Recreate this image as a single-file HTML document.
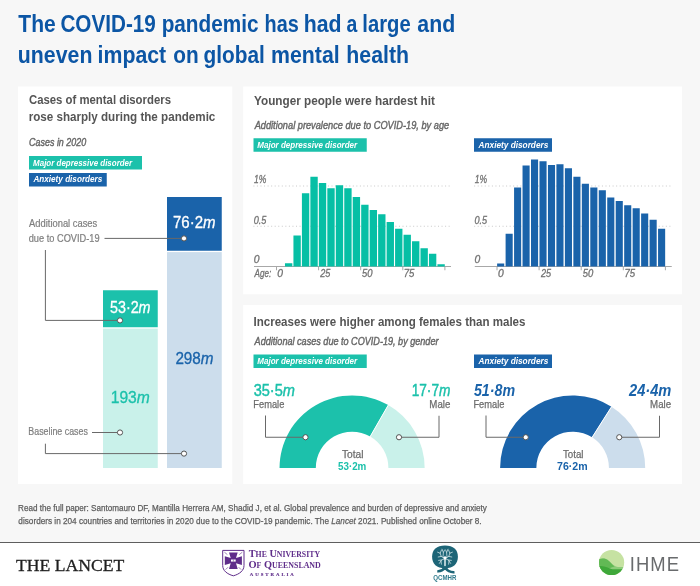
<!DOCTYPE html>
<html lang="en">
<head>
<meta charset="utf-8">
<title>The COVID-19 pandemic has had a large and uneven impact on global mental health</title>
<style>
*{margin:0;padding:0;box-sizing:border-box}
html,body{width:700px;height:586px;overflow:hidden;background:#f7f7f7}
body{font-family:"Liberation Sans", Arial, Helvetica, sans-serif;-webkit-font-smoothing:antialiased}
#page{position:relative;width:700px;height:586px;background:#f7f7f7;overflow:hidden}
#gfx{position:absolute;left:0;top:0;width:700px;height:586px}
.t{position:absolute;white-space:nowrap;line-height:1;transform-origin:0 0;display:block;font-weight:400}
.t small{font-size:76%}
h1,h2,p{font-size:inherit;font-weight:inherit}
.t i{font-style:italic}
</style>
</head>
<body>
<div id="page">
<svg id="gfx" width="700" height="586" viewBox="0 0 700 586" aria-hidden="true">
<rect x="0" y="543" width="700" height="43" fill="#fff"/>
<rect x="18" y="86.5" width="214.3" height="397.5" fill="#fff"/>
<rect x="243.2" y="86.5" width="438.8" height="207.8" fill="#fff"/>
<rect x="243.2" y="305" width="438.8" height="179" fill="#fff"/>
<rect x="103" y="290.25" width="54.75" height="37" fill="#1cc1ab"/>
<rect x="103" y="328.6" width="54.75" height="139.4" fill="#c9f1ea"/>
<rect x="167" y="197" width="54.75" height="53.75" fill="#1a63aa"/>
<rect x="167" y="252.1" width="54.75" height="215.9" fill="#ccddec"/>
<path d="M104.5 238.4 L184 238.4" fill="none" stroke="#696969" stroke-width="1"/>
<path d="M45.4 250 L45.4 320.4 L120 320.4" fill="none" stroke="#696969" stroke-width="1"/>
<path d="M92 432.5 L120 432.5" fill="none" stroke="#696969" stroke-width="1"/>
<path d="M45.4 443.7 L45.4 453.6 L184 453.6" fill="none" stroke="#696969" stroke-width="1"/>
<circle cx="184" cy="238.4" r="2.6" fill="#fff" stroke="#555" stroke-width="1"/>
<circle cx="120" cy="320.4" r="2.6" fill="#fff" stroke="#555" stroke-width="1"/>
<circle cx="120" cy="432.5" r="2.6" fill="#fff" stroke="#555" stroke-width="1"/>
<circle cx="184" cy="453.6" r="2.6" fill="#fff" stroke="#555" stroke-width="1"/>
<rect x="29" y="156" width="113" height="13.5" fill="#1cc1ab"/>
<rect x="29" y="173" width="77.75" height="13.5" fill="#1a63aa"/>
<rect x="253.5" y="138.25" width="113.25" height="13.5" fill="#1cc1ab"/>
<rect x="474" y="138.25" width="78" height="13.5" fill="#1a63aa"/>
<rect x="253.5" y="354.5" width="113.25" height="13.5" fill="#1cc1ab"/>
<rect x="474" y="354.5" width="78" height="13.5" fill="#1a63aa"/>
<path d="M253.4 186 L451 186" fill="none" stroke="#bcbcbc" stroke-width="0.8" stroke-dasharray="1 2.55"/>
<path d="M253.4 226.25 L451 226.25" fill="none" stroke="#bcbcbc" stroke-width="0.8" stroke-dasharray="1 2.55"/>
<path d="M254 266.5 L451 266.5" fill="none" stroke="#a8a8a8" stroke-width="1"/>
<path d="M276.5 266.5 L276.5 270.25" fill="none" stroke="#a8a8a8" stroke-width="1"/>
<path d="M318.6 266.5 L318.6 270.25" fill="none" stroke="#a8a8a8" stroke-width="1"/>
<path d="M360.7 266.5 L360.7 270.25" fill="none" stroke="#a8a8a8" stroke-width="1"/>
<path d="M402.8 266.5 L402.8 270.25" fill="none" stroke="#a8a8a8" stroke-width="1"/>
<path d="M444.9 266.5 L444.9 270.25" fill="none" stroke="#a8a8a8" stroke-width="1"/>
<rect x="284.97" y="263.25" width="7.35" height="3.25" fill="#06bfa5"/>
<rect x="293.44" y="235.5" width="7.35" height="31" fill="#06bfa5"/>
<rect x="301.91" y="193.25" width="7.35" height="73.25" fill="#06bfa5"/>
<rect x="310.38" y="176.75" width="7.35" height="89.75" fill="#06bfa5"/>
<rect x="318.85" y="183" width="7.35" height="83.5" fill="#06bfa5"/>
<rect x="327.32" y="188.25" width="7.35" height="78.25" fill="#06bfa5"/>
<rect x="335.79" y="185.25" width="7.35" height="81.25" fill="#06bfa5"/>
<rect x="344.26" y="188.25" width="7.35" height="78.25" fill="#06bfa5"/>
<rect x="352.73" y="197" width="7.35" height="69.5" fill="#06bfa5"/>
<rect x="361.2" y="204.75" width="7.35" height="61.75" fill="#06bfa5"/>
<rect x="369.67" y="210" width="7.35" height="56.5" fill="#06bfa5"/>
<rect x="378.14" y="214.25" width="7.35" height="52.25" fill="#06bfa5"/>
<rect x="386.61" y="222" width="7.35" height="44.5" fill="#06bfa5"/>
<rect x="395.08" y="228.75" width="7.35" height="37.75" fill="#06bfa5"/>
<rect x="403.55" y="234.75" width="7.35" height="31.75" fill="#06bfa5"/>
<rect x="412.02" y="241.25" width="7.35" height="25.25" fill="#06bfa5"/>
<rect x="420.49" y="248.25" width="7.35" height="18.25" fill="#06bfa5"/>
<rect x="428.96" y="253.75" width="7.35" height="12.75" fill="#06bfa5"/>
<rect x="437.43" y="264.25" width="7.35" height="2.25" fill="#06bfa5"/>
<path d="M474.15 186 L671.75 186" fill="none" stroke="#bcbcbc" stroke-width="0.8" stroke-dasharray="1 2.55"/>
<path d="M474.15 226.25 L671.75 226.25" fill="none" stroke="#bcbcbc" stroke-width="0.8" stroke-dasharray="1 2.55"/>
<path d="M474.75 266.5 L671.75 266.5" fill="none" stroke="#a8a8a8" stroke-width="1"/>
<path d="M497 266.5 L497 270.25" fill="none" stroke="#a8a8a8" stroke-width="1"/>
<path d="M539.1 266.5 L539.1 270.25" fill="none" stroke="#a8a8a8" stroke-width="1"/>
<path d="M581.2 266.5 L581.2 270.25" fill="none" stroke="#a8a8a8" stroke-width="1"/>
<path d="M623.3 266.5 L623.3 270.25" fill="none" stroke="#a8a8a8" stroke-width="1"/>
<path d="M665.4 266.5 L665.4 270.25" fill="none" stroke="#a8a8a8" stroke-width="1"/>
<rect x="497.12" y="263.5" width="7.1" height="3" fill="#1a63aa"/>
<rect x="505.6" y="233.75" width="7.1" height="32.75" fill="#1a63aa"/>
<rect x="514.07" y="187.5" width="7.1" height="79" fill="#1a63aa"/>
<rect x="522.53" y="165.5" width="7.1" height="101" fill="#1a63aa"/>
<rect x="531" y="159.5" width="7.1" height="107" fill="#1a63aa"/>
<rect x="539.48" y="161.25" width="7.1" height="105.25" fill="#1a63aa"/>
<rect x="547.95" y="165" width="7.1" height="101.5" fill="#1a63aa"/>
<rect x="556.41" y="164.25" width="7.1" height="102.25" fill="#1a63aa"/>
<rect x="564.88" y="168.25" width="7.1" height="98.25" fill="#1a63aa"/>
<rect x="573.36" y="176.75" width="7.1" height="89.75" fill="#1a63aa"/>
<rect x="581.83" y="183.75" width="7.1" height="82.75" fill="#1a63aa"/>
<rect x="590.29" y="187.5" width="7.1" height="79" fill="#1a63aa"/>
<rect x="598.76" y="190.25" width="7.1" height="76.25" fill="#1a63aa"/>
<rect x="607.24" y="197.5" width="7.1" height="69" fill="#1a63aa"/>
<rect x="615.71" y="201" width="7.1" height="65.5" fill="#1a63aa"/>
<rect x="624.17" y="205.25" width="7.1" height="61.25" fill="#1a63aa"/>
<rect x="632.64" y="208.25" width="7.1" height="58.25" fill="#1a63aa"/>
<rect x="641.12" y="213.5" width="7.1" height="53" fill="#1a63aa"/>
<rect x="649.59" y="219.75" width="7.1" height="46.75" fill="#1a63aa"/>
<rect x="658.06" y="228.75" width="7.1" height="37.75" fill="#1a63aa"/>
<path d="M279.55 468 A72.55 72.55 0 0 1 388.27 405.11 L370.2 436.53 A36.3 36.3 0 0 0 315.8 468 Z" fill="#1cc1ab"/>
<path d="M388.27 405.11 A72.55 72.55 0 0 1 424.65 468 L388.4 468 A36.3 36.3 0 0 0 370.2 436.53 Z" fill="#c9f1ea"/>
<path d="M369.95 436.97 L388.51 404.67" fill="none" stroke="#fff" stroke-width="1"/>
<path d="M500.1 468 A72.55 72.55 0 0 1 611.52 406.74 L592.1 437.35 A36.3 36.3 0 0 0 536.35 468 Z" fill="#1a63aa"/>
<path d="M611.52 406.74 A72.55 72.55 0 0 1 645.2 468 L608.95 468 A36.3 36.3 0 0 0 592.1 437.35 Z" fill="#ccddec"/>
<path d="M591.83 437.77 L611.79 406.32" fill="none" stroke="#fff" stroke-width="1"/>
<path d="M265.5 415.5 L265.5 437.25 L305.5 437.25" fill="none" stroke="#696969" stroke-width="1"/>
<path d="M439 415.75 L439 437.25 L399 437.25" fill="none" stroke="#696969" stroke-width="1"/>
<path d="M486 415.5 L486 437.25 L525.75 437.25" fill="none" stroke="#696969" stroke-width="1"/>
<path d="M659.5 415.75 L659.5 437.25 L619.25 437.25" fill="none" stroke="#696969" stroke-width="1"/>
<circle cx="305.5" cy="437.25" r="2.6" fill="#fff" stroke="#555" stroke-width="1"/>
<circle cx="399" cy="437.25" r="2.6" fill="#fff" stroke="#555" stroke-width="1"/>
<circle cx="525.75" cy="437.25" r="2.6" fill="#fff" stroke="#555" stroke-width="1"/>
<circle cx="619.25" cy="437.25" r="2.6" fill="#fff" stroke="#555" stroke-width="1"/>
<rect x="0" y="542" width="700" height="1" fill="#5e5e5e"/>
<g id="logo-uq" fill="none" stroke="#5f2d8a">
<path d="M222.7 550.4 H244 V565.5 C244 570.6 239.6 574.1 233.35 575.8 C227.1 574.1 222.7 570.6 222.7 565.5 Z" fill="#fff" stroke-width="1"/>
<path d="M229 552.4 H237.7 L236 558 L241.9 556.3 V564.9 L236 563.2 L237.7 568.9 H229 L230.7 563.2 L224.8 564.9 V556.3 L230.7 558 Z" fill="#5f2d8a" stroke="none"/>
<path d="M231 559.5 H235.7 V561.6 H231 Z" fill="#fff" stroke="none"/>
<path d="M233.35 559.5 V561.6" stroke-width="0.5"/>
<path d="M224.4 552.2 L227.4 554.6 M242.3 552.2 L239.3 554.6 M225.6 569.6 L228 567.2 M241.1 569.6 L238.7 567.2" stroke-width="0.6"/>
</g>
<g id="logo-qcmhr">
<path d="M445 545.5 C453.4 545.5 457.9 549.6 457.9 556.8 C457.9 564 453.4 568.2 445 568.2 C436.6 568.2 432.1 564 432.1 556.8 C432.1 549.6 436.6 545.5 445 545.5 Z" fill="#1d6577"/>
<path d="M437.3 571.2 C440.4 571.6 443 570.2 445 567.8 C447.4 570.8 450.4 572.6 454.5 572.2" fill="none" stroke="#1d6577" stroke-width="2.5" stroke-linecap="butt"/>
<path d="M441.5 567 H448.5 L446.8 570 H443.4 Z" fill="#1d6577"/>
<g fill="none" stroke="#e4f0f2" stroke-width="0.7" stroke-linecap="round">
<path d="M445 565.4 V558.2" stroke-width="1.5"/>
<path d="M445 558.4 L441.2 556.4 L438.2 557 M441.2 556.4 L440.2 553.2 L437.6 552.2 M440.2 553.2 L441.4 550.2 M443 557.2 L443.4 552.4 L442 549.2 M443.4 552.4 L444.6 550"/>
<path d="M445 558.4 L448.8 556.4 L451.8 557 M448.8 556.4 L449.8 553.2 L452.4 552.2 M449.8 553.2 L448.6 550.2 M447 557.2 L446.6 552.4 L448 549.2 M446.6 552.4 L445.6 550"/>
<path d="M445 558.6 L441.6 560 L439.4 563.4 M441.6 560 L438.6 560.4 M441 561 L441.4 564.2 M445 558.6 L448.4 560 L450.6 563.4 M448.4 560 L451.4 560.4 M449 561 L448.6 564.2"/>
</g>
<circle cx="445" cy="557.8" r="1.6" fill="#fff"/>
</g>
<g id="logo-ihme">
<clipPath id="ihmeclip"><circle cx="611.6" cy="562.5" r="12.6"/></clipPath>
<circle cx="611.6" cy="562.5" r="12.6" fill="#c6e2a2"/>
<g clip-path="url(#ihmeclip)">
<path d="M598 559.6 C601 558.2 604.6 558 607.4 559.8 C610.6 561.8 612.6 565.4 616 566.6 C619 567.6 622 566.6 626 567.4 V577 H598 Z" fill="#8ccc79"/>
<path d="M598 559.6 C601 558.2 604.6 558 607.4 559.8 C610.4 561.8 612 565 614.6 566.4 C610 567.4 606 570 602 571.6 L598 570 Z" fill="#62b955"/>
<path d="M598 566.2 C602 565.6 606 566.6 610 568.4 C614 570 619 569.2 626 568.6 V577 H598 Z" fill="#3fa83a"/>
</g>
</g>

</svg>
<header>
<h1>
<span class="t tw" style="left:18px;top:12px;font-family:'Liberation Sans', Arial, Helvetica, sans-serif;font-size:23.8px;font-weight:700;font-style:normal;color:#0c56a5;transform:translateX(0.26px) scaleX(0.8852)">The</span>
<span class="t tw" style="left:60px;top:12px;font-family:'Liberation Sans', Arial, Helvetica, sans-serif;font-size:23.8px;font-weight:700;font-style:normal;color:#0c56a5;transform:translateX(0.40px) scaleX(0.8688)">COVID-19</span>
<span class="t tw" style="left:161px;top:12px;font-family:'Liberation Sans', Arial, Helvetica, sans-serif;font-size:23.8px;font-weight:700;font-style:normal;color:#0c56a5;transform:translateX(0.63px) scaleX(0.8729)">pandemic</span>
<span class="t tw" style="left:264px;top:12px;font-family:'Liberation Sans', Arial, Helvetica, sans-serif;font-size:23.8px;font-weight:700;font-style:normal;color:#0c56a5;transform:translateX(0.61px) scaleX(0.8338)">has</span>
<span class="t tw" style="left:303px;top:12px;font-family:'Liberation Sans', Arial, Helvetica, sans-serif;font-size:23.8px;font-weight:700;font-style:normal;color:#0c56a5;transform:translateX(0.77px) scaleX(0.8950)">had</span>
<span class="t tw" style="left:346px;top:12px;font-family:'Liberation Sans', Arial, Helvetica, sans-serif;font-size:23.8px;font-weight:700;font-style:normal;color:#0c56a5;transform:translateX(0.50px) scaleX(0.8150)">a</span>
<span class="t tw" style="left:362px;top:12px;font-family:'Liberation Sans', Arial, Helvetica, sans-serif;font-size:23.8px;font-weight:700;font-style:normal;color:#0c56a5;transform:translateX(0.34px) scaleX(0.8499)">large</span>
<span class="t tw" style="left:417px;top:12px;font-family:'Liberation Sans', Arial, Helvetica, sans-serif;font-size:23.8px;font-weight:700;font-style:normal;color:#0c56a5;transform:translateX(0.33px) scaleX(0.8950)">and</span>
<span class="t tw" style="left:17px;top:43px;font-family:'Liberation Sans', Arial, Helvetica, sans-serif;font-size:23.8px;font-weight:700;font-style:normal;color:#0c56a5;transform:translateX(0.84px) scaleX(0.8950)">uneven</span>
<span class="t tw" style="left:97px;top:43px;font-family:'Liberation Sans', Arial, Helvetica, sans-serif;font-size:23.8px;font-weight:700;font-style:normal;color:#0c56a5;transform:translateX(0.56px) scaleX(0.8950)">impact</span>
<span class="t tw" style="left:173px;top:43px;font-family:'Liberation Sans', Arial, Helvetica, sans-serif;font-size:23.8px;font-weight:700;font-style:normal;color:#0c56a5;transform:translateX(0.29px) scaleX(0.8736)">on</span>
<span class="t tw" style="left:203px;top:43px;font-family:'Liberation Sans', Arial, Helvetica, sans-serif;font-size:23.8px;font-weight:700;font-style:normal;color:#0c56a5;transform:translateX(0.45px) scaleX(0.8752)">global</span>
<span class="t tw" style="left:271px;top:43px;font-family:'Liberation Sans', Arial, Helvetica, sans-serif;font-size:23.8px;font-weight:700;font-style:normal;color:#0c56a5;transform:translateX(0.03px) scaleX(0.8950)">mental</span>
<span class="t tw" style="left:346px;top:43px;font-family:'Liberation Sans', Arial, Helvetica, sans-serif;font-size:23.8px;font-weight:700;font-style:normal;color:#0c56a5;transform:translateX(0.31px) scaleX(0.8950)">health</span>
</h1>
</header>
<section id="cases">
<h2 class="t " style="left:28px;top:94px;font-family:'Liberation Sans', Arial, Helvetica, sans-serif;font-size:12px;font-weight:700;font-style:normal;color:#555555;transform:translateX(0.93px) scaleX(0.9465)">Cases of mental disorders</h2>
<h2 class="t " style="left:28px;top:111px;font-family:'Liberation Sans', Arial, Helvetica, sans-serif;font-size:12px;font-weight:700;font-style:normal;color:#555555;transform:translateX(0.63px) scaleX(0.9688)">rose sharply during the pandemic</h2>
<span class="t " style="left:29px;top:138px;font-family:'Liberation Sans', Arial, Helvetica, sans-serif;font-size:10.4px;font-weight:400;font-style:italic;color:#666666;-webkit-text-stroke:0.4px #666666;transform:translateX(0.08px) scaleX(0.8598)">Cases in 2020</span>
<span class="t " style="left:33px;top:159px;font-family:'Liberation Sans', Arial, Helvetica, sans-serif;font-size:9.3px;font-weight:700;font-style:italic;color:#ffffff;transform:translateX(0.11px) scaleX(0.8555)">Major depressive disorder</span>
<span class="t " style="left:33px;top:175px;font-family:'Liberation Sans', Arial, Helvetica, sans-serif;font-size:9.3px;font-weight:700;font-style:italic;color:#ffffff;transform:translateX(0.42px) scaleX(0.8767)">Anxiety disorders</span>
<span class="t " style="left:29px;top:218px;font-family:'Liberation Sans', Arial, Helvetica, sans-serif;font-size:10.6px;font-weight:400;font-style:normal;color:#7e7e7e;-webkit-text-stroke:0.2px #7e7e7e;transform:translateX(0.07px) scaleX(0.8837)">Additional cases</span>
<span class="t " style="left:28px;top:233px;font-family:'Liberation Sans', Arial, Helvetica, sans-serif;font-size:10.6px;font-weight:400;font-style:normal;color:#7e7e7e;-webkit-text-stroke:0.2px #7e7e7e;transform:translateX(0.70px) scaleX(0.8725)">due to COVID-19</span>
<span class="t " style="left:172px;top:215px;font-family:'Liberation Sans', Arial, Helvetica, sans-serif;font-size:16px;font-weight:400;font-style:normal;color:#ffffff;-webkit-text-stroke:0.3px #ffffff;transform:translateX(0.97px) scaleX(0.9388)">76·2<i>m</i></span>
<span class="t " style="left:109px;top:300px;font-family:'Liberation Sans', Arial, Helvetica, sans-serif;font-size:16px;font-weight:400;font-style:normal;color:#ffffff;-webkit-text-stroke:0.3px #ffffff;transform:translateX(0.96px) scaleX(0.8944)">53·2<i>m</i></span>
<span class="t " style="left:110px;top:390px;font-family:'Liberation Sans', Arial, Helvetica, sans-serif;font-size:16px;font-weight:400;font-style:normal;color:#1cc1ab;-webkit-text-stroke:0.3px #1cc1ab;transform:translateX(0.71px) scaleX(0.9773)">193<i>m</i></span>
<span class="t " style="left:175px;top:351px;font-family:'Liberation Sans', Arial, Helvetica, sans-serif;font-size:16px;font-weight:400;font-style:normal;color:#1a63aa;-webkit-text-stroke:0.3px #1a63aa;transform:translateX(0.38px) scaleX(0.9540)">298<i>m</i></span>
<span class="t " style="left:28px;top:426px;font-family:'Liberation Sans', Arial, Helvetica, sans-serif;font-size:10.6px;font-weight:400;font-style:normal;color:#7e7e7e;-webkit-text-stroke:0.2px #7e7e7e;transform:translateX(0.36px) scaleX(0.8346)">Baseline cases</span>
</section>
<section id="age">
<h2 class="t " style="left:254px;top:95px;font-family:'Liberation Sans', Arial, Helvetica, sans-serif;font-size:12px;font-weight:700;font-style:normal;color:#555555;transform:translateX(0.05px) scaleX(0.9767)">Younger people were hardest hit</h2>
<span class="t " style="left:254px;top:121px;font-family:'Liberation Sans', Arial, Helvetica, sans-serif;font-size:10.4px;font-weight:400;font-style:italic;color:#666666;-webkit-text-stroke:0.4px #666666;transform:translateX(0.63px) scaleX(0.8886)">Additional prevalence due to COVID-19, by age</span>
<span class="t " style="left:257px;top:141px;font-family:'Liberation Sans', Arial, Helvetica, sans-serif;font-size:9.3px;font-weight:700;font-style:italic;color:#ffffff;transform:translateX(0.36px) scaleX(0.8620)">Major depressive disorder</span>
<span class="t " style="left:478px;top:141px;font-family:'Liberation Sans', Arial, Helvetica, sans-serif;font-size:9.3px;font-weight:700;font-style:italic;color:#ffffff;transform:translateX(0.57px) scaleX(0.8875)">Anxiety disorders</span>
<span class="t " style="left:253px;top:175px;font-family:'Liberation Sans', Arial, Helvetica, sans-serif;font-size:10.4px;font-weight:400;font-style:italic;color:#727272;-webkit-text-stroke:0.3px #727272;transform:translateX(0.90px) scaleX(0.8211)">1%</span>
<span class="t " style="left:253px;top:216px;font-family:'Liberation Sans', Arial, Helvetica, sans-serif;font-size:10.4px;font-weight:400;font-style:italic;color:#727272;-webkit-text-stroke:0.3px #727272;transform:translateX(0.73px) scaleX(0.8795)">0.5</span>
<span class="t " style="left:253px;top:255px;font-family:'Liberation Sans', Arial, Helvetica, sans-serif;font-size:10.4px;font-weight:400;font-style:italic;color:#727272;-webkit-text-stroke:0.3px #727272;transform:translateX(0.70px) scaleX(0.9922)">0</span>
<span class="t " style="left:277px;top:269px;font-family:'Liberation Sans', Arial, Helvetica, sans-serif;font-size:10.4px;font-weight:400;font-style:italic;color:#727272;-webkit-text-stroke:0.3px #727272;transform:translateX(0.20px) scaleX(0.9922)">0</span>
<span class="t " style="left:320px;top:269px;font-family:'Liberation Sans', Arial, Helvetica, sans-serif;font-size:10.4px;font-weight:400;font-style:italic;color:#727272;-webkit-text-stroke:0.3px #727272;transform:translateX(0.19px) scaleX(0.8787)">25</span>
<span class="t " style="left:361px;top:269px;font-family:'Liberation Sans', Arial, Helvetica, sans-serif;font-size:10.4px;font-weight:400;font-style:italic;color:#727272;-webkit-text-stroke:0.3px #727272;transform:translateX(0.92px) scaleX(0.9097)">50</span>
<span class="t " style="left:403px;top:269px;font-family:'Liberation Sans', Arial, Helvetica, sans-serif;font-size:10.4px;font-weight:400;font-style:italic;color:#727272;-webkit-text-stroke:0.3px #727272;transform:translateX(0.64px) scaleX(0.9250)">75</span>
<span class="t " style="left:474px;top:175px;font-family:'Liberation Sans', Arial, Helvetica, sans-serif;font-size:10.4px;font-weight:400;font-style:italic;color:#727272;-webkit-text-stroke:0.3px #727272;transform:translateX(0.65px) scaleX(0.8211)">1%</span>
<span class="t " style="left:474px;top:216px;font-family:'Liberation Sans', Arial, Helvetica, sans-serif;font-size:10.4px;font-weight:400;font-style:italic;color:#727272;-webkit-text-stroke:0.3px #727272;transform:translateX(0.48px) scaleX(0.8795)">0.5</span>
<span class="t " style="left:474px;top:255px;font-family:'Liberation Sans', Arial, Helvetica, sans-serif;font-size:10.4px;font-weight:400;font-style:italic;color:#727272;-webkit-text-stroke:0.3px #727272;transform:translateX(0.45px) scaleX(0.9922)">0</span>
<span class="t " style="left:497px;top:269px;font-family:'Liberation Sans', Arial, Helvetica, sans-serif;font-size:10.4px;font-weight:400;font-style:italic;color:#727272;-webkit-text-stroke:0.3px #727272;transform:translateX(0.95px) scaleX(0.9922)">0</span>
<span class="t " style="left:540px;top:269px;font-family:'Liberation Sans', Arial, Helvetica, sans-serif;font-size:10.4px;font-weight:400;font-style:italic;color:#727272;-webkit-text-stroke:0.3px #727272;transform:translateX(0.94px) scaleX(0.8787)">25</span>
<span class="t " style="left:582px;top:269px;font-family:'Liberation Sans', Arial, Helvetica, sans-serif;font-size:10.4px;font-weight:400;font-style:italic;color:#727272;-webkit-text-stroke:0.3px #727272;transform:translateX(0.67px) scaleX(0.9097)">50</span>
<span class="t " style="left:624px;top:269px;font-family:'Liberation Sans', Arial, Helvetica, sans-serif;font-size:10.4px;font-weight:400;font-style:italic;color:#727272;-webkit-text-stroke:0.3px #727272;transform:translateX(0.39px) scaleX(0.9250)">75</span>
<span class="t " style="left:254px;top:269px;font-family:'Liberation Sans', Arial, Helvetica, sans-serif;font-size:10.4px;font-weight:400;font-style:italic;color:#727272;-webkit-text-stroke:0.3px #727272;transform:translateX(0.52px) scaleX(0.7808)">Age:</span>
</section>
<section id="gender">
<h2 class="t " style="left:253px;top:316px;font-family:'Liberation Sans', Arial, Helvetica, sans-serif;font-size:12px;font-weight:700;font-style:normal;color:#555555;transform:translateX(0.48px) scaleX(0.9618)">Increases were higher among females than males</h2>
<span class="t " style="left:254px;top:337px;font-family:'Liberation Sans', Arial, Helvetica, sans-serif;font-size:10.4px;font-weight:400;font-style:italic;color:#666666;-webkit-text-stroke:0.4px #666666;transform:translateX(0.62px) scaleX(0.8746)">Additional cases due to COVID-19, by gender</span>
<span class="t " style="left:257px;top:357px;font-family:'Liberation Sans', Arial, Helvetica, sans-serif;font-size:9.3px;font-weight:700;font-style:italic;color:#ffffff;transform:translateX(0.36px) scaleX(0.8620)">Major depressive disorder</span>
<span class="t " style="left:478px;top:357px;font-family:'Liberation Sans', Arial, Helvetica, sans-serif;font-size:9.3px;font-weight:700;font-style:italic;color:#ffffff;transform:translateX(0.57px) scaleX(0.8875)">Anxiety disorders</span>
<span class="t " style="left:253px;top:382px;font-family:'Liberation Sans', Arial, Helvetica, sans-serif;font-size:16.4px;font-weight:400;font-style:normal;color:#1cc1ab;-webkit-text-stroke:0.45px #1cc1ab;transform:translateX(0.64px) scaleX(0.8895)">35·5<i>m</i></span>
<span class="t " style="left:253px;top:399px;font-family:'Liberation Sans', Arial, Helvetica, sans-serif;font-size:10.6px;font-weight:400;font-style:normal;color:#6c6c6c;-webkit-text-stroke:0.25px #6c6c6c;transform:translateX(0.35px) scaleX(0.8762)">Female</span>
<span class="t " style="left:411px;top:382px;font-family:'Liberation Sans', Arial, Helvetica, sans-serif;font-size:16.4px;font-weight:400;font-style:normal;color:#1cc1ab;-webkit-text-stroke:0.45px #1cc1ab;transform:translateX(0.64px) scaleX(0.8350)">17·7<i>m</i></span>
<span class="t " style="left:429px;top:399px;font-family:'Liberation Sans', Arial, Helvetica, sans-serif;font-size:10.6px;font-weight:400;font-style:normal;color:#6c6c6c;-webkit-text-stroke:0.25px #6c6c6c;transform:translateX(0.32px) scaleX(0.9142)">Male</span>
<span class="t " style="left:341px;top:449px;font-family:'Liberation Sans', Arial, Helvetica, sans-serif;font-size:10.6px;font-weight:400;font-style:normal;color:#6c6c6c;-webkit-text-stroke:0.25px #6c6c6c;transform:translateX(0.89px) scaleX(0.9680)">Total</span>
<span class="t " style="left:337px;top:461px;font-family:'Liberation Sans', Arial, Helvetica, sans-serif;font-size:11px;font-weight:700;font-style:normal;color:#1cc1ab;transform:translateX(0.95px) scaleX(0.8935)">53·2m</span>
<span class="t " style="left:473px;top:383px;font-family:'Liberation Sans', Arial, Helvetica, sans-serif;font-size:15.8px;font-weight:700;font-style:italic;color:#1a63aa;transform:translateX(0.96px) scaleX(0.9005)">51·8m</span>
<span class="t " style="left:473px;top:399px;font-family:'Liberation Sans', Arial, Helvetica, sans-serif;font-size:10.6px;font-weight:400;font-style:normal;color:#6c6c6c;-webkit-text-stroke:0.25px #6c6c6c;transform:translateX(0.45px) scaleX(0.8762)">Female</span>
<span class="t " style="left:628px;top:383px;font-family:'Liberation Sans', Arial, Helvetica, sans-serif;font-size:15.8px;font-weight:700;font-style:italic;color:#1a63aa;transform:translateX(0.98px) scaleX(0.9279)">24·4m</span>
<span class="t " style="left:650px;top:399px;font-family:'Liberation Sans', Arial, Helvetica, sans-serif;font-size:10.6px;font-weight:400;font-style:normal;color:#6c6c6c;-webkit-text-stroke:0.25px #6c6c6c;transform:translateX(0.07px) scaleX(0.9142)">Male</span>
<span class="t " style="left:562px;top:449px;font-family:'Liberation Sans', Arial, Helvetica, sans-serif;font-size:10.6px;font-weight:400;font-style:normal;color:#6c6c6c;-webkit-text-stroke:0.25px #6c6c6c;transform:translateX(0.90px) scaleX(0.9219)">Total</span>
<span class="t " style="left:557px;top:461px;font-family:'Liberation Sans', Arial, Helvetica, sans-serif;font-size:11px;font-weight:700;font-style:normal;color:#1a63aa;transform:translateX(0.04px) scaleX(0.9627)">76·2m</span>
</section>
<footer id="credits">
<p class="t " style="left:18px;top:503px;font-family:'Liberation Sans', Arial, Helvetica, sans-serif;font-size:9.4px;font-weight:400;font-style:normal;color:#5c5c5c;-webkit-text-stroke:0.25px #5c5c5c;transform:translateX(0.04px) scaleX(0.8651)">Read the full paper: Santomauro DF, Mantilla Herrera AM, Shadid J, et al. Global prevalence and burden of depressive and anxiety</p>
<p class="t " style="left:18px;top:516px;font-family:'Liberation Sans', Arial, Helvetica, sans-serif;font-size:9.4px;font-weight:400;font-style:normal;color:#5c5c5c;-webkit-text-stroke:0.25px #5c5c5c;transform:translateX(0.36px) scaleX(0.8743)">disorders in 204 countries and territories in 2020 due to the COVID-19 pandemic. The <i>Lancet</i> 2021. Published online October 8.</p>
<span class="t logo" style="left:16px;top:558px;font-family:'Liberation Serif', 'Times New Roman', serif;font-size:16.3px;font-weight:400;font-style:normal;color:#1f1f1f;-webkit-text-stroke:0.3px #1f1f1f;transform:translateX(0.09px) scaleX(1.0835)">THE LANCET</span>
<span class="t uq" style="left:248px;top:549px;font-family:'Liberation Serif', 'Times New Roman', serif;font-size:10.4px;font-weight:700;font-style:normal;color:#5f2d8a;transform:translateX(0.74px) scaleX(0.9861)">T<small>HE</small> U<small>NIVERSITY</small></span>
<span class="t uq" style="left:248px;top:560px;font-family:'Liberation Serif', 'Times New Roman', serif;font-size:10.4px;font-weight:700;font-style:normal;color:#5f2d8a;transform:translateX(0.39px) scaleX(1.0016)">O<small>F</small> Q<small>UEENSLAND</small></span>
<span class="t uqa" style="left:249px;top:572px;font-family:'Liberation Serif', 'Times New Roman', serif;font-size:5px;font-weight:700;font-style:normal;color:#5f2d8a;letter-spacing:2px;-webkit-text-stroke:0.15px #5f2d8a;transform:translateX(0.83px) scaleX(0.9689)">AUSTRALIA</span>
<span class="t qc" style="left:433px;top:575px;font-family:'Liberation Sans', Arial, Helvetica, sans-serif;font-size:6.4px;font-weight:700;font-style:normal;color:#2f7a8c;transform:translateX(0.35px) scaleX(0.9559)">QCMHR</span>
<span class="t ihme" style="left:629px;top:554px;font-family:'Liberation Sans', Arial, Helvetica, sans-serif;font-size:20px;font-weight:400;font-style:normal;color:#696b6d;letter-spacing:1.2px;transform:translateX(0.70px) scaleX(0.9213)">IHME</span>
</footer>
</div>
</body>
</html>
